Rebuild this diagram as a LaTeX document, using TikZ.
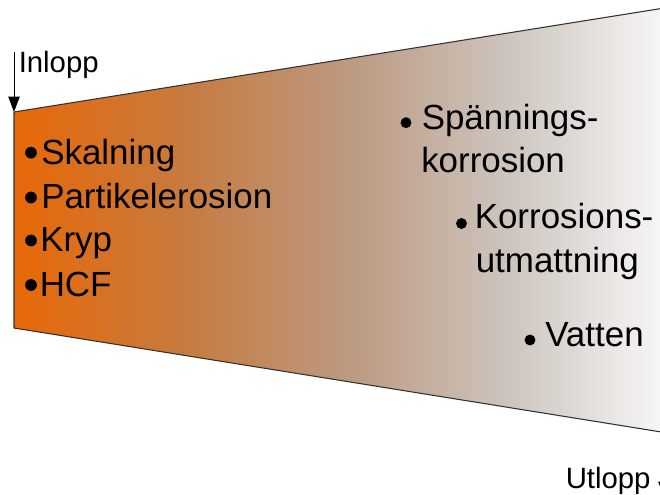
\documentclass[tikz,border=0pt]{standalone}
\usepackage{fontspec}
\setmainfont{Liberation Sans}
\usetikzlibrary{arrows.meta}
\definecolor{c0}{RGB}{232,104,8}
\definecolor{c1}{RGB}{199,122,62}
\definecolor{c2}{RGB}{188,153,128}
\definecolor{c3}{RGB}{206,198,192}
\definecolor{c4}{RGB}{252,252,252}
\definecolor{edge}{RGB}{50,50,50}
\pgfdeclarehorizontalshading{trapshade}{100bp}{color(0bp)=(c0); color(25bp)=(c0); color(37.5bp)=(c1); color(50bp)=(c2); color(62.5bp)=(c3); color(75bp)=(c4); color(100bp)=(c4)}
\tikzset{
  big/.style={anchor=base west, inner sep=0, font=\fontsize{26.2}{30}\selectfont},
  small/.style={anchor=base west, inner sep=0, font=\fontsize{22}{25}\selectfont},
  bulL/.style={circle, fill=black, inner sep=0, minimum size=8.8pt},
  bulR/.style={circle, fill=black, inner sep=0, minimum size=8.2pt},
  flow/.style={draw=black, line width=0.75pt, -{Triangle[length=11.5pt,width=8.5pt]}}
}
\begin{document}
\begin{tikzpicture}[x=0.75pt,y=-0.75pt]
\useasboundingbox (0,0) rectangle (660,495);
\clip (0,0) rectangle (660,495);
% trapezoid
\path[shading=trapshade, draw=edge, line width=0.8pt]
  (14,112) -- (680,5.5) -- (680,435) -- (14,328) -- cycle;
% inlet arrow
\coordinate (inTop) at (14,52);
\coordinate (inTip) at (14,112);
\draw[flow] (inTop) -- (inTip);
\node[small] (inlopp) at (18.5,72.7) {Inlopp};
% outlet arrow
\coordinate (outTop) at (664,436);
\coordinate (outTip) at (664,497);
\draw[flow] (outTop) -- (outTip);
\node[small] (utlopp) at (565.5,488) {Utlopp};
% left list
\node[bulL] (bl1) at (31,152.7) {};
\node[big] (skal) at (41,164.2) {Skalning};
\node[bulL] (bl2) at (31,197.5) {};
\node[big] (part) at (41,208.3) {Partikelerosion};
\node[bulL] (bl3) at (31,240.5) {};
\node[big] (kryp) at (40,251.8) {Kryp};
\node[bulL] (bl4) at (31,285) {};
\node[big] (hcf) at (39.5,296.7) {HCF};
% right list
\node[bulR] (br1) at (406,122.7) {};
\node[big] (span) at (421.5,129.3) {Spännings-};
\node[big] (korr) at (421,173) {korrosion};
\node[bulR] (br2) at (461.5,223.5) {};
\node[big] (korrs) at (474.5,228.3) {Korrosions-};
\node[big] (utm) at (475.5,272.3) {utmattning};
\node[bulR] (br3) at (530,340) {};
\node[big] (vat) at (545,346) {Vatten};
\end{tikzpicture}
\end{document}
